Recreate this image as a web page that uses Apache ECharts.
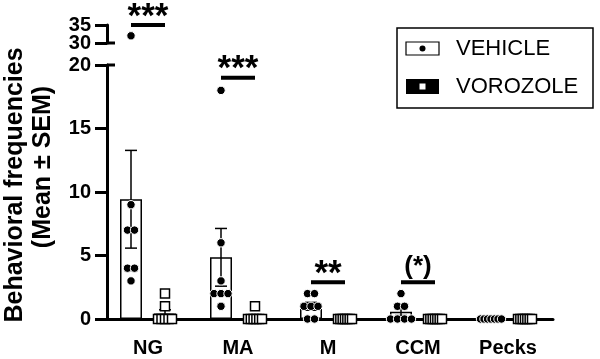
<!DOCTYPE html>
<html>
<head>
<meta charset="utf-8">
<script src="https://cdn.jsdelivr.net/npm/echarts@6/dist/echarts.min.js"></script>
<style>html,body{margin:0;padding:0;background:#fff;}#c{width:600px;height:359px;}</style>
</head>
<body>
<div id="c"></div>
<script>
// ---- data ----
const categories = ['NG', 'MA', 'M', 'CCM', 'Pecks'];
const vehiclePoints = [
  [32, 9, 7, 7, 4, 4, 3],
  [18, 6, 3, 2, 2, 2, 1],
  [2, 2, 1, 1, 1, 0, 0],
  [2, 1, 1, 0, 0, 0, 0],
  [0, 0, 0, 0, 0, 0, 0]
];
const vorozolePoints = [
  [2, 1, 0, 0, 0, 0, 0],
  [1, 0, 0, 0, 0, 0, 0],
  [0, 0, 0, 0, 0, 0, 0],
  [0, 0, 0, 0, 0, 0, 0],
  [0, 0, 0, 0, 0, 0, 0]
];
const lowerTicks = [0, 5, 10, 15, 20];
const upperTicks = [30, 35];
const sigCategories = ['NG', 'MA', 'M', 'CCM'];
const sigLevels = [35, 19, 2.9, 2.9];
const sigLabels = ['***', '***', '**', '(*)'];
const seriesNames = ['VEHICLE', 'VOROZOLE'];
const yTitle = ['Behavioral frequencies', '(Mean \u00b1 SEM)'];

// ---- helpers ----
const FONT = '"Liberation Sans", Arial, Helvetica, sans-serif';
const BAR_W = 22, BAR_GAP = 12;
const OFF = (BAR_W + BAR_GAP) / 2;
const AXIS_SHIFT = 4;
const mean = a => a.reduce((s, v) => s + v, 0) / a.length;
const sem = a => { const m = mean(a); const v = a.reduce((s, x) => s + (x - m) * (x - m), 0) / (a.length - 1); return Math.sqrt(v / a.length); };

function jitter(groups, maxStep, span) {
  const out = [];
  groups.forEach((vals, ci) => {
    const byVal = {};
    vals.forEach(v => { (byVal[v] = byVal[v] || []).push(v); });
    Object.keys(byVal).forEach(k => {
      const n = byVal[k].length;
      const s = n > 1 ? Math.min(maxStep, span / (n - 1)) : 0;
      for (let i = 0; i < n; i++) out.push([ci, Number(k), (i - (n - 1) / 2) * s]);
    });
  });
  return out;
}
const vehDots = jitter(vehiclePoints, 7, 21);
const vorDots = jitter(vorozolePoints, 7, 14);
const upperMin = upperTicks[0], lowerMax = lowerTicks[lowerTicks.length - 1];

function dotRender(offset, kind) {
  return function (params, api) {
    const p = api.coord([api.value(0), api.value(1)]);
    const x = p[0] + offset + api.value(2);
    if (kind === 'circle') {
      return { type: 'circle', shape: { cx: x, cy: p[1], r: 4.2 }, style: { fill: '#000', stroke: '#fff', lineWidth: 1 } };
    }
    return { type: 'rect', shape: { x: x - 4.5, y: p[1] - 4.5, width: 9, height: 9 }, style: { fill: '#fff', stroke: '#000', lineWidth: 1.5 } };
  };
}
function errRender(offset) {
  return function (params, api) {
    const m = api.value(1), e = api.value(2);
    if (!(e > 0)) return null;
    const hi = api.coord([api.value(0), m + e]);
    const lo = api.coord([api.value(0), m - e]);
    const x = hi[0] + offset;
    const st = { stroke: '#000', lineWidth: 1.5 };
    return { type: 'group', children: [
      { type: 'line', shape: { x1: x, y1: hi[1], x2: x, y2: lo[1] }, style: st },
      { type: 'line', shape: { x1: x - 6, y1: hi[1], x2: x + 6, y2: hi[1] }, style: st },
      { type: 'line', shape: { x1: x - 6, y1: lo[1], x2: x + 6, y2: lo[1] }, style: st }
    ] };
  };
}
function sigRender(params, api) {
  const p = api.coord([api.value(0), api.value(1)]);
  const lab = sigLabels[api.value(2)];
  const paren = lab.indexOf('(') >= 0;
  return { type: 'group', children: [
    { type: 'line', shape: { x1: p[0] - OFF, y1: p[1], x2: p[0] + OFF, y2: p[1] }, style: { stroke: '#000', lineWidth: 4 } },
    { type: 'text', x: p[0], y: p[1] - (paren ? 15 : 8), style: { text: lab, align: 'center', verticalAlign: 'middle', font: 'bold ' + (paren ? 26 : 35) + 'px ' + FONT, fill: '#000' } }
  ] };
}
function breakRender(params, api) {
  const p = api.coord([0, api.value(1)]);
  const x = params.coordSys.x + AXIS_SHIFT;
  return { type: 'line', shape: { x1: x, y1: p[1], x2: x + 8, y2: p[1] }, style: { stroke: '#000', lineWidth: 3 } };
}
function upperLabelRender(params, api) {
  const p = api.coord([0, api.value(1)]);
  const x = params.coordSys.x + AXIS_SHIFT - 16;
  return { type: 'text', x: x, y: p[1], style: { text: String(api.value(1)), align: 'right', verticalAlign: 'middle', font: 'bold 20px ' + FONT, fill: '#000' } };
}

const sigData = sigCategories.map((c, i) => [categories.indexOf(c), sigLevels[i], i]);
const axisLineStyle = { color: '#000', width: 3 };
const yLabel = { color: '#000', fontWeight: 'bold', fontSize: 20, fontFamily: FONT, margin: 16 };

const chart = echarts.init(document.getElementById('c'), null, { renderer: 'canvas' });
chart.setOption({
  animation: false,
  backgroundColor: '#fff',
  grid: [
    { left: 103, right: 47, top: 65, bottom: 40 },
    { left: 103, right: 47, top: 25, height: 18 }
  ],
  xAxis: [
    { type: 'category', gridIndex: 0, data: categories,
      axisLine: { lineStyle: axisLineStyle },
      axisTick: { alignWithLabel: true, length: 8, lineStyle: axisLineStyle },
      axisLabel: { color: '#000', fontWeight: 'bold', fontSize: 20, fontFamily: FONT, margin: 19 } },
    { type: 'category', gridIndex: 1, data: categories, show: false }
  ],
  yAxis: [
    { type: 'value', gridIndex: 0, min: lowerTicks[0], max: lowerMax, interval: 5, offset: -AXIS_SHIFT,
      axisLine: { show: true, lineStyle: axisLineStyle },
      axisTick: { show: true, length: 12, lineStyle: axisLineStyle },
      splitLine: { show: false }, axisLabel: yLabel },
    { type: 'value', gridIndex: 1, min: upperMin, max: upperTicks[1], interval: upperTicks[1] - upperMin, offset: -AXIS_SHIFT,
      axisLine: { show: true, lineStyle: axisLineStyle },
      axisTick: { show: true, length: 12, lineStyle: axisLineStyle },
      splitLine: { show: false }, axisLabel: { show: false } }
  ],
  series: [
    { name: seriesNames[0], type: 'bar', xAxisIndex: 0, yAxisIndex: 0, barWidth: BAR_W, barGap: (BAR_GAP / BAR_W * 100) + '%', z: 2,
      data: vehiclePoints.map(mean), itemStyle: { color: '#fff', borderColor: '#000', borderWidth: 1.5 } },
    { name: seriesNames[1], type: 'bar', xAxisIndex: 0, yAxisIndex: 0, barWidth: BAR_W, z: 2,
      data: vorozolePoints.map(mean), itemStyle: { color: '#fff', borderColor: '#000', borderWidth: 1.5 } },
    { type: 'custom', xAxisIndex: 0, yAxisIndex: 0, z: 3, renderItem: errRender(-OFF),
      data: vehiclePoints.map((a, i) => [i, mean(a), sem(a)]) },
    { type: 'custom', xAxisIndex: 0, yAxisIndex: 0, z: 3, renderItem: errRender(OFF),
      data: vorozolePoints.map((a, i) => [i, mean(a), sem(a)]) },
    { type: 'custom', xAxisIndex: 0, yAxisIndex: 0, z: 4, renderItem: dotRender(-OFF, 'circle'),
      data: vehDots.filter(d => d[1] <= lowerMax) },
    { type: 'custom', xAxisIndex: 1, yAxisIndex: 1, z: 4, renderItem: dotRender(-OFF, 'circle'),
      data: vehDots.filter(d => d[1] >= upperMin) },
    { type: 'custom', xAxisIndex: 0, yAxisIndex: 0, z: 4, renderItem: dotRender(OFF, 'square'),
      data: vorDots.filter(d => d[1] <= lowerMax) },
    { type: 'custom', xAxisIndex: 0, yAxisIndex: 0, z: 5, renderItem: sigRender,
      data: sigData.filter(d => d[1] <= lowerMax) },
    { type: 'custom', xAxisIndex: 1, yAxisIndex: 1, z: 5, renderItem: sigRender,
      data: sigData.filter(d => d[1] >= upperMin) },
    { type: 'custom', xAxisIndex: 0, yAxisIndex: 0, z: 5, renderItem: breakRender, data: [[0, lowerMax]] },
    { type: 'custom', xAxisIndex: 1, yAxisIndex: 1, z: 5, renderItem: breakRender, data: [[0, upperMin]] },
    { type: 'custom', xAxisIndex: 1, yAxisIndex: 1, z: 5, renderItem: upperLabelRender, data: upperTicks.map(v => [0, v]) }
  ],
  graphic: [
    { type: 'text', x: 15, y: 185, rotation: Math.PI / 2,
      style: { text: yTitle[0], align: 'center', verticalAlign: 'middle', font: 'bold 25px ' + FONT, fill: '#000' } },
    { type: 'text', x: 43, y: 167, rotation: Math.PI / 2,
      style: { text: yTitle[1], align: 'center', verticalAlign: 'middle', font: 'bold 25px ' + FONT, fill: '#000' } },
    { type: 'rect', shape: { x: 397, y: 28, width: 196, height: 80 }, style: { fill: '#fff', stroke: '#000', lineWidth: 1.5 }, z: 10 },
    { type: 'rect', shape: { x: 406, y: 42, width: 33, height: 13 }, style: { fill: '#fff', stroke: '#000', lineWidth: 1.2 }, z: 11 },
    { type: 'circle', shape: { cx: 422.5, cy: 48.5, r: 3 }, style: { fill: '#000' }, z: 12 },
    { type: 'text', x: 456, y: 49, style: { text: seriesNames[0], align: 'left', verticalAlign: 'middle', font: '22px ' + FONT, fill: '#000' }, z: 11 },
    { type: 'rect', shape: { x: 406, y: 79, width: 33, height: 15 }, style: { fill: '#000' }, z: 11 },
    { type: 'rect', shape: { x: 419.5, y: 83.5, width: 6, height: 6 }, style: { fill: '#fff' }, z: 12 },
    { type: 'text', x: 456, y: 87, style: { text: seriesNames[1], align: 'left', verticalAlign: 'middle', font: '22px ' + FONT, fill: '#000' }, z: 11 }
  ]
});
</script>
</body>
</html>
